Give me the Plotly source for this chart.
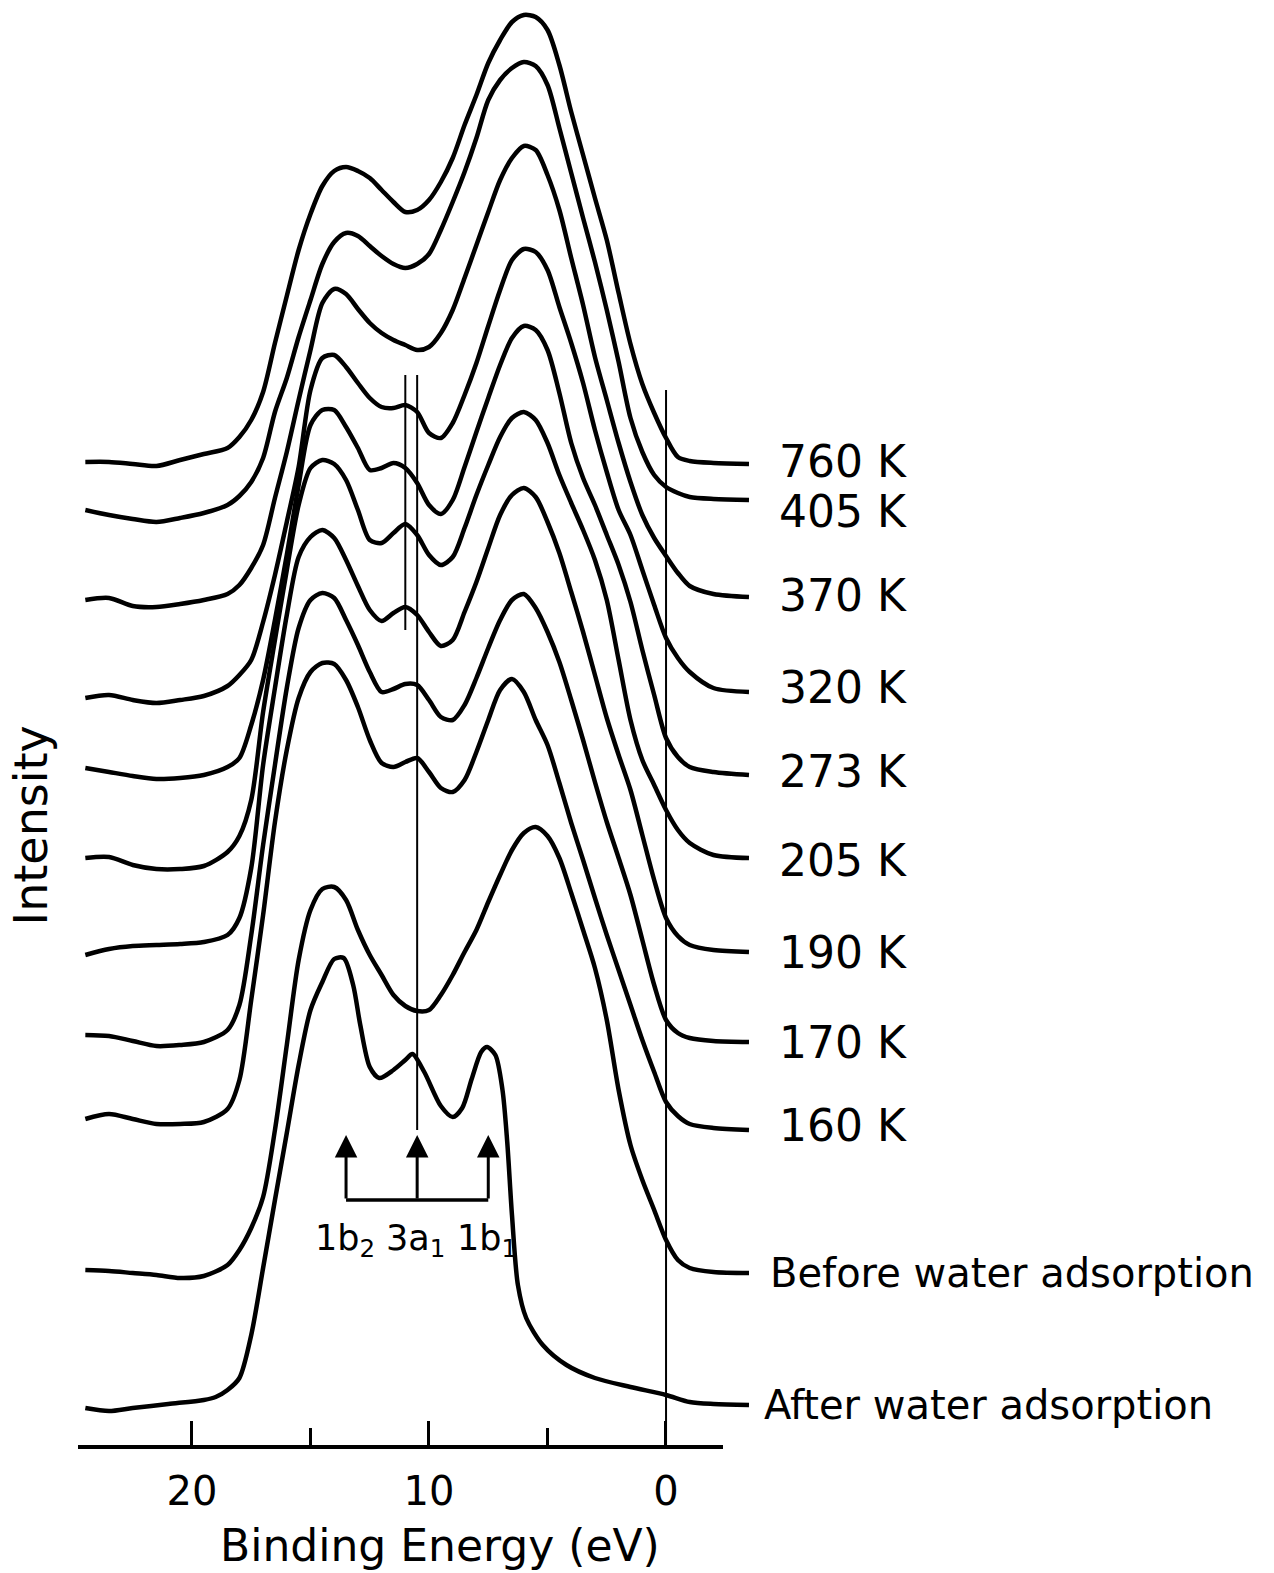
import plotly.graph_objects as go

# Binding-energy grid (eV) shared by the annealing series and the clean-surface spectrum
energy = [24.5, 23.5, 22.5, 21.5, 20.5, 19.5, 18.5, 18.0, 17.5, 17.0,
          16.5, 16.0, 15.5, 15.0, 14.5, 14.0, 13.5, 13.0, 12.5, 12.0,
          11.5, 11.0, 10.5, 10.0, 9.5, 9.0, 8.5, 8.0, 7.5, 7.0,
          6.5, 6.0, 5.5, 5.0, 4.5, 4.0, 3.5, 3.0, 2.5, 2.0,
          1.5, 1.0, 0.5, 0.0, -0.5, -1.0, -2.0, -3.5]

# Stacked photoemission intensities (arb. units, vertically offset)
int_760K = [98.5, 98.5, 98.3, 98.1, 98.7, 99.3, 99.9, 101.0, 102.7, 105.5,
            110.4, 115.1, 119.7, 123.3, 126.1, 127.6, 128.0, 127.6, 126.9, 125.7,
            124.5, 123.5, 123.7, 124.7, 126.5, 128.9, 132.2, 135.2, 138.4, 140.7,
            142.5, 143.2, 143.0, 141.7, 138.2, 133.5, 129.2, 124.9, 120.7, 115.4,
            110.3, 106.3, 103.4, 100.9, 99.0, 98.6, 98.4, 98.3]
int_405K = [93.7, 93.2, 92.8, 92.5, 92.9, 93.4, 94.2, 95.1, 96.5, 98.9,
            103.5, 106.9, 111.0, 114.7, 118.3, 120.5, 121.4, 121.1, 120.1, 119.1,
            118.3, 117.9, 118.3, 119.3, 121.7, 124.5, 127.5, 130.9, 134.7, 136.7,
            137.9, 138.5, 138.1, 136.2, 131.9, 127.4, 122.9, 118.5, 113.7, 108.5,
            102.9, 99.5, 97.2, 96.0, 95.4, 95.0, 94.8, 94.7]
int_370K = [84.7, 84.9, 84.1, 84.0, 84.3, 84.7, 85.3, 86.2, 87.9, 90.2,
            94.9, 99.5, 104.7, 109.7, 114.4, 115.8, 115.3, 113.8, 112.4, 111.4,
            110.7, 110.2, 109.7, 110.0, 111.4, 113.7, 116.9, 120.2, 123.5, 126.7,
            128.9, 130.1, 129.7, 127.2, 123.7, 118.9, 114.2, 109.0, 104.7, 100.4,
            96.5, 93.2, 90.9, 89.1, 87.4, 86.1, 85.3, 85.0]
int_320K = [74.9, 75.2, 74.7, 74.4, 74.7, 75.1, 76.1, 77.2, 78.7, 82.5,
            87.2, 92.5, 98.0, 105.7, 108.9, 109.2, 108.0, 106.4, 104.9, 104.0,
            103.9, 104.2, 103.5, 101.4, 100.9, 102.4, 105.2, 108.4, 112.1, 115.7,
            118.7, 119.8, 119.5, 117.7, 114.0, 110.4, 106.4, 101.7, 97.5, 93.7,
            91.2, 87.7, 84.2, 80.9, 78.9, 77.5, 75.9, 75.5]
int_273K = [67.9, 67.5, 67.1, 66.8, 66.9, 67.2, 68.0, 68.9, 72.2, 76.7,
            82.7, 89.2, 96.2, 102.2, 103.7, 103.7, 102.0, 99.9, 97.7, 97.9,
            98.4, 97.9, 96.4, 94.2, 93.3, 94.7, 98.0, 101.5, 104.9, 108.2,
            110.9, 112.1, 111.7, 109.7, 105.4, 100.4, 96.9, 94.2, 91.2, 88.2,
            84.5, 79.7, 75.2, 70.9, 69.0, 68.0, 67.5, 67.2]
int_205K = [58.9, 59.0, 58.2, 57.8, 57.8, 58.1, 59.5, 61.1, 64.7, 73.5,
            80.7, 87.7, 94.2, 97.9, 98.7, 98.3, 96.7, 93.7, 90.7, 90.4,
            91.4, 92.3, 91.2, 89.2, 88.2, 89.0, 91.9, 95.2, 98.2, 101.0,
            102.9, 103.5, 102.7, 100.4, 97.2, 94.4, 91.7, 88.7, 84.7, 78.7,
            72.7, 68.7, 66.2, 63.7, 61.7, 60.4, 59.2, 58.9]
int_190K = [49.2, 49.8, 50.1, 50.2, 50.3, 50.5, 51.2, 52.9, 57.9, 68.2,
            75.9, 83.2, 89.0, 91.0, 91.7, 90.9, 88.7, 86.1, 83.7, 82.6,
            83.4, 84.0, 83.2, 81.5, 80.1, 80.7, 83.5, 86.5, 89.9, 93.2,
            95.2, 95.9, 95.0, 92.5, 89.4, 85.5, 81.5, 77.2, 72.9, 69.2,
            65.7, 61.2, 56.7, 52.9, 51.1, 50.2, 49.7, 49.5]
int_170K = [41.2, 41.1, 40.6, 40.1, 40.2, 40.5, 41.7, 44.2, 51.2, 60.2,
            68.2, 75.9, 81.9, 84.7, 85.4, 84.9, 82.7, 80.2, 77.5, 75.5,
            75.8, 76.3, 76.2, 74.7, 73.0, 72.7, 74.2, 76.9, 79.9, 82.7,
            84.7, 85.3, 83.9, 81.5, 78.5, 74.7, 70.7, 66.5, 62.5, 58.9,
            55.2, 50.7, 46.2, 42.7, 41.4, 40.9, 40.6, 40.5]
int_160K = [32.8, 33.3, 32.8, 32.3, 32.3, 32.5, 33.8, 36.7, 44.7, 53.2,
            62.5, 69.7, 74.9, 77.5, 78.4, 78.3, 76.7, 74.0, 70.7, 68.4,
            68.0, 68.5, 68.9, 67.5, 65.9, 65.5, 66.7, 69.5, 72.7, 75.7,
            76.8, 75.5, 72.7, 70.2, 66.4, 62.4, 58.7, 54.9, 51.2, 47.7,
            44.2, 40.7, 37.5, 34.5, 33.1, 32.3, 31.9, 31.7]
int_before = [17.7, 17.6, 17.4, 17.2, 16.9, 17.1, 18.2, 19.7, 21.9, 25.0,
              31.7, 40.2, 48.7, 53.7, 55.8, 56.0, 54.7, 51.7, 49.2, 47.2,
              45.2, 44.1, 43.6, 43.7, 45.2, 47.2, 49.5, 51.7, 54.5, 57.2,
              59.7, 61.4, 62.0, 61.1, 58.9, 55.4, 51.7, 47.9, 42.7, 35.7,
              30.2, 26.7, 23.7, 20.7, 18.7, 17.9, 17.5, 17.4]

# Water-covered surface: finer sampling around the molecular orbitals
energy_after = [24.5, 23.5, 22.5, 21.0, 19.5, 19.0, 18.5, 18.0, 17.5, 17.0,
                16.5, 16.0, 15.5, 15.0, 14.5, 14.0, 13.6, 13.2, 12.9, 12.5,
                12.1, 11.5, 11.0, 10.7, 10.2, 9.5, 9.0, 8.6, 8.2, 7.8,
                7.55, 7.2, 6.9, 6.7, 6.5, 6.25, 5.9, 5.2, 4.2, 3.0,
                1.5, 0.0, -1.0, -2.0, -3.5]
int_after = [3.9, 3.6, 3.9, 4.3, 4.7, 5.0, 5.7, 6.9, 11.2, 17.9,
             24.7, 31.4, 38.2, 43.7, 46.5, 48.8, 48.9, 46.2, 42.2, 38.0,
             36.9, 37.7, 38.7, 39.3, 37.5, 34.1, 33.0, 33.9, 36.8, 39.5,
             40.0, 39.2, 35.7, 30.5, 23.2, 16.2, 12.9, 10.2, 8.2, 6.9,
             6.0, 5.2, 4.5, 4.3, 4.2]

temperature_labels = ["760 K", "405 K", "370 K", "320 K", "273 K",
                      "205 K", "190 K", "170 K", "160 K"]
temperature_series = [int_760K, int_405K, int_370K, int_320K, int_273K,
                      int_205K, int_190K, int_170K, int_160K]
# small vertical nudges so neighbouring labels do not collide
label_nudge = [0.3, -1.1, 0.2, 0.5, 0.4, -0.2, 0.0, 0.0, 0.5]

# Water molecular orbitals (eV) marked under the spectra
orbital_names = ["1b<sub>2</sub>", "3a<sub>1</sub>", "1b<sub>1</sub>"]
orbital_energies = [13.5, 10.5, 7.5]

axis_ticks = [20, 10, 0]
axis_minor_ticks = [15, 5]

FONT = "DejaVu Sans"
INK = "black"
LINE = dict(color=INK, width=4.5, shape="spline", smoothing=0.8)

fig = go.Figure()

for series in temperature_series:
    fig.add_trace(go.Scatter(x=energy, y=series, mode="lines", line=LINE,
                             hoverinfo="skip"))
fig.add_trace(go.Scatter(x=energy, y=int_before, mode="lines", line=LINE,
                         hoverinfo="skip"))
fig.add_trace(go.Scatter(x=energy_after, y=int_after, mode="lines",
                         line=LINE, hoverinfo="skip"))
# carrier for the visible energy axis
fig.add_trace(go.Scatter(x=[], y=[], xaxis="x2", yaxis="y", mode="lines",
                         hoverinfo="skip"))

annotations = []
for label, series, dy in zip(temperature_labels, temperature_series,
                             label_nudge):
    annotations.append(dict(x=energy[-1] - 1.2, y=series[-1] + dy, xref="x",
                            yref="y", text=label, showarrow=False,
                            xanchor="left", yanchor="middle",
                            font=dict(family=FONT, size=44, color=INK)))
annotations.append(dict(x=energy[-1] - 0.8, y=int_before[-1], xref="x",
                        yref="y", text="Before water adsorption",
                        showarrow=False, xanchor="left", yanchor="middle",
                        font=dict(family=FONT, size=40, color=INK)))
annotations.append(dict(x=energy_after[-1] - 0.55, y=int_after[-1],
                        xref="x", yref="y", text="After water adsorption",
                        showarrow=False, xanchor="left", yanchor="middle",
                        font=dict(family=FONT, size=40, color=INK)))

bracket_y = 24.7
arrow_tip_y = 31.2
for name, e in zip(orbital_names, orbital_energies):
    annotations.append(dict(x=e, y=arrow_tip_y, ax=e, ay=bracket_y,
                            xref="x", yref="y", axref="x", ayref="y",
                            text="", showarrow=True, arrowhead=2,
                            arrowsize=1.5, arrowwidth=3, arrowcolor=INK))
    annotations.append(dict(x=e + 0.05, y=bracket_y - 4.0, xref="x",
                            yref="y", text=name, showarrow=False,
                            xanchor="center", yanchor="middle",
                            font=dict(family=FONT, size=35, color=INK)))

annotations.append(dict(x=0.024, y=0.475, xref="paper", yref="paper",
                        xanchor="center", yanchor="middle",
                        text="Intensity", textangle=-90, showarrow=False,
                        font=dict(family=FONT, size=46, color=INK)))
annotations.append(dict(x=0.345, y=0.0178, xref="paper", yref="paper",
                        xanchor="center", yanchor="middle",
                        text="Binding Energy (eV)", showarrow=False,
                        font=dict(family=FONT, size=44, color=INK)))

shapes = [
    # Fermi level
    dict(type="line", xref="x", yref="y", x0=0, x1=0, y0=0, y1=105.7,
         line=dict(color=INK, width=2)),
    # 3a1 guide lines
    dict(type="line", xref="x", yref="y", x0=10.5, x1=10.5, y0=31.7,
         y1=107.2, line=dict(color=INK, width=2)),
    dict(type="line", xref="x", yref="y", x0=11.0, x1=11.0, y0=81.7,
         y1=107.2, line=dict(color=INK, width=2)),
    # bracket joining the orbital arrows
    dict(type="line", xref="x", yref="y", x0=orbital_energies[0],
         x1=orbital_energies[-1], y0=bracket_y, y1=bracket_y,
         line=dict(color=INK, width=3.5)),
]

fig.update_layout(
    width=1274, height=1573,
    margin=dict(l=0, r=0, t=0, b=0),
    paper_bgcolor="white", plot_bgcolor="rgba(0,0,0,0)",
    showlegend=False,
    xaxis=dict(range=[28.10, -25.65], visible=False, fixedrange=True),
    yaxis=dict(range=[-12.6, 144.7], visible=False, fixedrange=True),
    xaxis2=dict(domain=[0.0612, 0.5675], anchor="free", position=0.0801,
                range=[24.81, -2.405], showline=True, linecolor=INK,
                linewidth=3.5, ticks="inside", ticklen=24, tickwidth=3,
                tickcolor=INK, tickvals=axis_ticks,
                ticktext=[str(t) for t in axis_ticks],
                tickfont=dict(family=FONT, size=40, color=INK),
                showgrid=False, zeroline=False, ticklabelstandoff=8,
                minor=dict(tickvals=axis_minor_ticks, ticks="inside",
                           ticklen=17, tickwidth=3, tickcolor=INK,
                           showgrid=False)),
    annotations=annotations,
    shapes=shapes,
)

fig.write_html("out.html")
